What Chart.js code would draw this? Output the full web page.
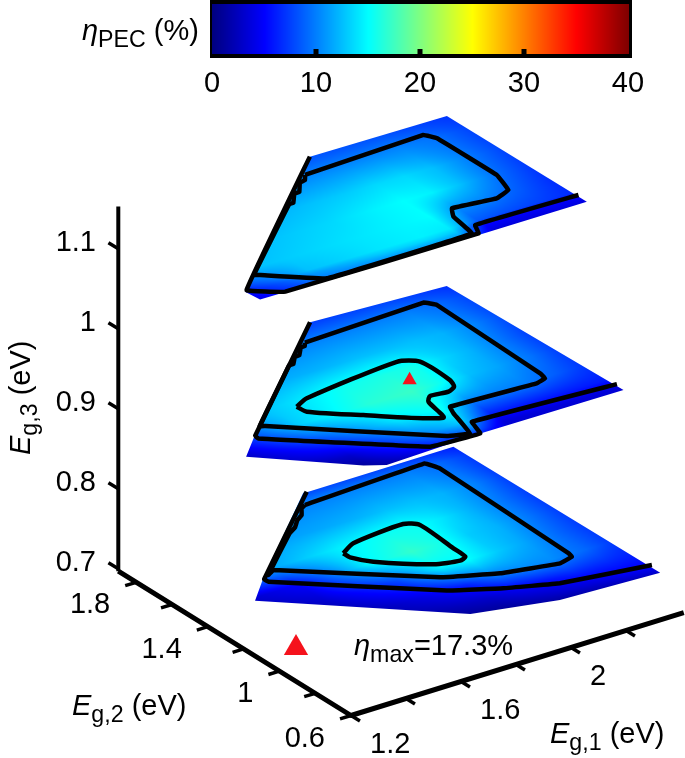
<!DOCTYPE html>
<html>
<head>
<meta charset="utf-8">
<title>PEC efficiency slices</title>
<script src="https://cdn.jsdelivr.net/npm/chart.js@4/dist/chart.umd.min.js"></script>
<style>
  html, body { margin: 0; padding: 0; background: #fff; }
  canvas { display: block; }
</style>
</head>
<body>
<canvas id="chart" width="685" height="758"></canvas>
<script>
// Tick labels
const BAR_TICKS = [0, 10, 20, 30, 40];
const E1_TICKS = [1.2, 1.4, 1.6, 1.8, 2, 2.2];
const E1_LABELS = [1.2, 1.6, 2];
const E2_TICKS = [0.6, 0.8, 1, 1.2, 1.4, 1.6, 1.8];
const E2_LABELS = [0.6, 1, 1.4, 1.8];
const E3_TICKS = [0.7, 0.8, 0.9, 1, 1.1];

// Slice levels, Eg,3 in eV
const LEVELS = [1.1, 0.9, 0.7];

// Efficiency samples (%), columns are Eg,1, rows are Eg,2 going down
const E1_COLS = [1.35, 1.6, 1.85, 2, 2.1, 2.2, 2.3, 2.42, 2.55];

const TOP_ROWS = [2.15, 2.03, 1.85, 1.7, 1.56, 1.45, 1.42, 1.36];
const TOP_VALUES = [
  [8, 8, 8, 8, 8, 8, 8, 7.5, 7],
  [10, 10, 10, 10.2, 10.2, 10.2, 10.2, 9.5, 7.5],
  [11, 11.5, 12.5, 13, 13.5, 13.5, 12.5, 10, 7.5],
  [11.5, 12.5, 13.5, 14.5, 15, 14.5, 12.5, 9.5, 7],
  [12, 13, 14, 14.6, 15, 10.5, 10, 8.5, 6.5],
  [6, 12.5, 14, 14.5, 14.2, 8.5, 8, 7.5, 6.5],
  [5, 11, 13, 13.5, 13, 5.5, 5, 5, 5],
  [3.5, 9.5, 10, 10, 10, 3.5, 3.5, 3.5, 3.5]
];

const MID_ROWS = [2.1, 1.99, 1.8, 1.65, 1.5, 1.35, 1.22, 1.15, 1.1];
const MID_VALUES = [
  [7.5, 7.5, 7.5, 7.5, 7.5, 7.5, 7.5, 7, 6.5],
  [10, 10, 10, 10, 10, 10, 10, 9, 7],
  [11, 11.5, 12, 12.5, 12.5, 12.5, 12, 10, 7],
  [11.5, 13, 15.5, 16, 15.8, 13.5, 12, 9.5, 6.5],
  [4.5, 13, 16.5, 17.2, 15.5, 12.5, 11.5, 9.5, 6.5],
  [2, 7.5, 14, 15.5, 10.5, 10.2, 10, 8.5, 6.5],
  [1, 3, 10, 13, 6, 6, 6, 6, 6],
  [0.8, 1.5, 7, 9, 3.5, 3.5, 3.5, 3.5, 3.5],
  [0.6, 0.8, 4.5, 4.5, 3, 3, 3, 3, 3]
];

const LOW_ROWS = [2.06, 1.99, 1.8, 1.65, 1.5, 1.35, 1.2, 1.08, 0.98, 0.92];
const LOW_VALUES = [
  [7.5, 7.5, 7.5, 7.5, 7.5, 7.5, 7.5, 7, 6],
  [10, 10, 10, 10, 10, 10, 10, 9, 6.5],
  [11, 11, 11.5, 12, 12.5, 12.5, 12, 10, 6.5],
  [11, 11.5, 14.5, 15.5, 15.5, 14, 12, 9.5, 6.5],
  [2, 5, 14.8, 17, 15.8, 13, 12, 9.5, 6.5],
  [1, 3, 8, 14.5, 15, 13, 11.5, 9, 6.5],
  [0.5, 1, 4, 6.5, 9.5, 10.5, 10.5, 9, 6.5],
  [0.4, 0.5, 2, 3, 4.5, 5.5, 6.5, 6.5, 6],
  [0.3, 0.3, 0.5, 1, 2, 3, 3.5, 4.5, 5],
  [0.3, 0.3, 0.3, 0.5, 0.8, 1, 1.5, 2, 3]
];

// Slice outlines and contours as [Eg,1, Eg,2] in eV
const TOP_OUTLINE = [[2.054, 2.135], [2.538, 2.137], [2.53, 1.364], [2.143, 1.355], [1.372, 1.354], [1.367, 1.428]];
const TOP_C5 = [[2.054, 2.135], [1.377, 1.435], [1.462, 1.356], [2.149, 1.365], [2.174, 1.422], [2.537, 1.42]];
const TOP_C10 = [[1.97, 2.032], [2.408, 2.064], [2.427, 2.019], [2.423, 1.688], [2.391, 1.576], [2.33, 1.546],
  [2.185, 1.566], [2.156, 1.512], [2.133, 1.377], [1.613, 1.363], [1.469, 1.502], [1.454, 1.514],
  [1.818, 1.883], [1.833, 1.884], [1.872, 1.939], [1.889, 1.938], [1.927, 1.994], [1.95, 2.001], [1.97, 2.032]];

const MID_OUTLINE = [[2.032, 2.1], [2.498, 2.076], [2.505, 1.126], [1.995, 1.118], [1.649, 1.093], [1.592, 1.131], [1.35, 1.396], [1.448, 1.503]];
const MID_C5 = [[2.032, 2.1], [1.454, 1.507], [1.451, 1.485], [1.824, 1.127], [1.995, 1.118], [2.021, 1.204], [2.513, 1.174]];
const MID_C10 = [[1.939, 1.985], [2.378, 2.017], [2.4, 1.979], [2.374, 1.377], [2.366, 1.338], [2.326, 1.322],
  [2.029, 1.335], [2.011, 1.288], [1.971, 1.136], [1.905, 1.162], [1.516, 1.548], [1.503, 1.558],
  [1.814, 1.877], [1.828, 1.876], [1.86, 1.918], [1.876, 1.918], [1.911, 1.964], [1.926, 1.965], [1.939, 1.985]];
const MID_C15 = [[1.667, 1.61], [1.724, 1.643], [2.081, 1.704], [2.136, 1.663], [2.134, 1.497], [2.118, 1.45], [2.085, 1.429],
  [2.024, 1.436], [1.998, 1.404], [1.97, 1.28], [1.791, 1.439], [1.671, 1.561], [1.667, 1.61]];

const LOW_OUTLINE = [[1.991, 2.046], [2.511, 2.06], [2.502, 0.922], [2.157, 0.935], [1.89, 1.01], [1.434, 1.477], [1.542, 1.599], [1.975, 2.049]];
const LOW_C5 = [[1.987, 2.049], [1.54, 1.591], [1.541, 1.569], [1.927, 1.195], [2.07, 1.108], [2.223, 1.037], [2.513, 0.984]];
const LOW_C10 = [[1.93, 1.971], [2.378, 2.01], [2.394, 1.953], [2.362, 1.205], [2.357, 1.178], [2.302, 1.158], [2.122, 1.205],
  [1.964, 1.288], [1.599, 1.631], [1.567, 1.61], [1.782, 1.826], [1.819, 1.853], [1.853, 1.893], [1.883, 1.916], [1.909, 1.957], [1.93, 1.971]];
const LOW_C15 = [[1.83, 1.608], [1.893, 1.651], [2.087, 1.679], [2.123, 1.643], [2.11, 1.441], [2.105, 1.369], [2.077, 1.354],
  [2, 1.379], [1.868, 1.503], [1.83, 1.571], [1.83, 1.608]];

// Optimum bandgaps, [Eg,1, Eg,2, Eg,3] in eV
const OPTIMUM = [2.039, 1.57, 0.9];

const FONT = '"Liberation Sans", Arial, sans-serif';

// The slices carry a little perspective, so they get their own fit next to the axes
function slicePoint(e1, e2, e3) {
  return {
    x: 350 + 283.75 * (e1 - 1.2) - 184 * (e2 - 0.6),
    y: 716.7 - 83.4 * (e1 - 1.2) - 110 * (e2 - 0.6) - 800 * (e3 - 0.7)
  };
}

function axisPoint(e1, e2, e3) {
  return {
    x: 351 + 275 * (e1 - 1.2) - 179 * (e2 - 0.6),
    y: 715.5 - 85 * (e1 - 1.2) - 111 * (e2 - 0.6) - 800 * (e3 - 0.697)
  };
}

// Inverse of slicePoint for one level
function sliceInverse(x, y, e3) {
  const dx = x - 350;
  const dy = y - 716.7 + 800 * (e3 - 0.7);
  return {
    e1: 1.2 + 0.002363 * dx - 0.003952 * dy,
    e2: 0.6 - 0.001791 * dx - 0.006095 * dy
  };
}

function jet(v) {
  const t = v / 40;
  const ch = c => Math.round(255 * Math.max(0, Math.min(1, 1.5 - Math.abs(4 * t - c))));
  return [ch(3), ch(2), ch(1)];
}

function bracket(list, value, descending) {
  for (let i = 0; i < list.length - 1; i++) {
    const inside = descending ? value >= list[i + 1] : value <= list[i + 1];
    if (inside) {
      const f = (value - list[i]) / (list[i + 1] - list[i]);
      return [i, Math.max(0, Math.min(1, f))];
    }
  }
  return [list.length - 2, 1];
}

function heatAt(slice, e1, e2) {
  const [i, t] = bracket(E1_COLS, e1, false);
  const [j, u] = bracket(slice.rows, e2, true);
  const v = slice.values;
  return (v[j][i] * (1 - t) + v[j][i + 1] * t) * (1 - u) + (v[j + 1][i] * (1 - t) + v[j + 1][i + 1] * t) * u;
}

const SLICES = [
  { level: LEVELS[0], rows: TOP_ROWS, values: TOP_VALUES, outline: TOP_OUTLINE, contours: [TOP_C5, TOP_C10] },
  { level: LEVELS[1], rows: MID_ROWS, values: MID_VALUES, outline: MID_OUTLINE, contours: [MID_C5, MID_C10, MID_C15] },
  { level: LEVELS[2], rows: LOW_ROWS, values: LOW_VALUES, outline: LOW_OUTLINE, contours: [LOW_C5, LOW_C10, LOW_C15] }
];

// Paint one slice off screen, then cut it to its outline
function drawSlice(chart, slice) {
  const sx = chart.scales.x;
  const sy = chart.scales.y;
  const pts = slice.outline.map(p => {
    const q = slicePoint(p[0], p[1], slice.level);
    return { x: sx.getPixelForValue(q.x), y: sy.getPixelForValue(q.y) };
  });
  const x0 = Math.floor(Math.min(...pts.map(p => p.x))) - 1;
  const x1 = Math.ceil(Math.max(...pts.map(p => p.x))) + 1;
  const y0 = Math.floor(Math.min(...pts.map(p => p.y))) - 1;
  const y1 = Math.ceil(Math.max(...pts.map(p => p.y))) + 1;
  const off = document.createElement('canvas');
  off.width = x1 - x0;
  off.height = y1 - y0;
  const octx = off.getContext('2d');
  const img = octx.createImageData(off.width, off.height);
  for (let py = 0; py < off.height; py++) {
    for (let px = 0; px < off.width; px++) {
      const e = sliceInverse(sx.getValueForPixel(px + x0), sy.getValueForPixel(py + y0), slice.level);
      const c = jet(heatAt(slice, e.e1, e.e2));
      const k = (py * off.width + px) * 4;
      img.data[k] = c[0];
      img.data[k + 1] = c[1];
      img.data[k + 2] = c[2];
      img.data[k + 3] = 255;
    }
  }
  octx.putImageData(img, 0, 0);
  octx.globalCompositeOperation = 'destination-in';
  octx.beginPath();
  pts.forEach((p, i) => i ? octx.lineTo(p.x - x0, p.y - y0) : octx.moveTo(p.x - x0, p.y - y0));
  octx.closePath();
  octx.fill();
  chart.ctx.drawImage(off, x0, y0);
}

// Mixed italic / subscript text
function drawRuns(ctx, x, y, runs, size) {
  let cx = x;
  runs.forEach(run => {
    const fs = run.sub ? size * 0.8 : size;
    ctx.font = (run.italic ? 'italic ' : '') + fs + 'px ' + FONT;
    ctx.fillText(run.t, cx, run.sub ? y + size * 0.24 : y);
    cx += ctx.measureText(run.t).width;
  });
}

function drawColorBar(ctx) {
  const barX = v => 212 + v * 10.4;
  ctx.fillStyle = '#000';
  ctx.fillRect(210, 0, 422, 58);
  for (let px = 212; px < 629; px++) {
    const c = jet((px - 212) / 10.4);
    ctx.fillStyle = 'rgb(' + c.join(',') + ')';
    ctx.fillRect(px, 4, 1, 50);
  }
  ctx.fillStyle = '#000';
  ctx.font = '29px ' + FONT;
  ctx.textAlign = 'center';
  ctx.textBaseline = 'alphabetic';
  BAR_TICKS.forEach(v => {
    if (v > 0 && v < 40) ctx.fillRect(barX(v) - 2.5, 49, 5, 6);
    ctx.fillText(String(v), barX(v), 92);
  });
  ctx.textAlign = 'left';
  drawRuns(ctx, 82, 40, [
    { t: 'η', italic: true },
    { t: 'PEC', sub: true },
    { t: ' (%)' }
  ], 29);
}

function drawAxisText(ctx) {
  ctx.fillStyle = '#000';
  ctx.font = '29px ' + FONT;
  ctx.textBaseline = 'alphabetic';

  ctx.textAlign = 'right';
  E3_TICKS.forEach(v => {
    const p = axisPoint(1.2, 1.9, v);
    ctx.fillText(String(v), 96, p.y + 2.5);
  });
  E2_LABELS.forEach(v => {
    const p = axisPoint(1.2, v, 0.697);
    ctx.fillText(String(v), p.x - 26, p.y + 31);
  });
  ctx.textAlign = 'left';
  E1_LABELS.forEach(v => {
    const p = axisPoint(v, 0.6, 0.697);
    ctx.fillText(String(v), p.x + 19, p.y + 37);
  });

  drawRuns(ctx, 72, 715, [{ t: 'E', italic: true }, { t: 'g,2', sub: true }, { t: ' (eV)' }], 29);
  drawRuns(ctx, 550, 743, [{ t: 'E', italic: true }, { t: 'g,1', sub: true }, { t: ' (eV)' }], 29);
  drawRuns(ctx, 354, 655, [{ t: 'η', italic: true }, { t: 'max', sub: true }, { t: '=17.3%' }], 29);

  ctx.save();
  ctx.translate(30, 455);
  ctx.rotate(-Math.PI / 2);
  drawRuns(ctx, 0, 0, [{ t: 'E', italic: true }, { t: 'g,3', sub: true }, { t: ' (eV)' }], 29);
  ctx.restore();
}

const figurePlugin = {
  id: 'figure',
  beforeDatasetsDraw(chart) {
    const ctx = chart.ctx;
    ctx.save();
    SLICES.forEach(s => drawSlice(chart, s));
    drawColorBar(ctx);
    drawAxisText(ctx);
    ctx.restore();
  }
};

function lineSet(data, width, tension) {
  return {
    data: data,
    showLine: true,
    borderColor: '#000',
    borderWidth: width,
    borderJoinStyle: 'round',
    borderCapStyle: 'butt',
    pointRadius: 0,
    spanGaps: false,
    tension: tension || 0,
    clip: false
  };
}

// Axis lines and tick stubs, stubs are cut by nulls
function axisData() {
  const out = [];
  const seg = (a, b) => { out.push(a, b, { x: null, y: null }); };
  E1_TICKS.forEach(v => seg(axisPoint(v, 0.6, 0.697), axisPoint(v, 0.55, 0.697)));
  E2_TICKS.forEach(v => seg(axisPoint(1.2, v, 0.697), axisPoint(1.16, v, 0.697)));
  E3_TICKS.forEach(v => seg(axisPoint(1.2, 1.9, v), axisPoint(1.2, 1.955, v)));
  return out;
}

const datasets = [];
// markers first so they sit on top
datasets.push({
  data: [slicePoint(OPTIMUM[0], OPTIMUM[1], OPTIMUM[2])],
  pointStyle: 'triangle',
  pointRadius: 8.2,
  backgroundColor: '#f5121c',
  borderWidth: 0,
  clip: false
});
datasets.push({
  data: [{ x: 296, y: 648 }],
  pointStyle: 'triangle',
  pointRadius: 14,
  backgroundColor: '#f5121c',
  borderWidth: 0,
  clip: false
});
SLICES.forEach(s => {
  s.contours.forEach((c, i) => {
    // the inner rings are the roundest ones, the outer ones run along straight edges
    const tension = i === 2 ? 0.22 : 0.05;
    datasets.push(lineSet(c.map(p => slicePoint(p[0], p[1], s.level)), 4.5, tension));
  });
});
datasets.push(lineSet([axisPoint(1.2, 1.9, 0.697), axisPoint(1.2, 1.9, 1.153)], 4));
datasets.push(lineSet([axisPoint(1.2, 1.9, 0.697), axisPoint(1.2, 0.6, 0.697), axisPoint(2.41, 0.6, 0.697)], 5));
datasets.push(lineSet(axisData(), 3.5));

new Chart(document.getElementById('chart'), {
  type: 'scatter',
  data: { datasets: datasets },
  plugins: [figurePlugin],
  options: {
    responsive: false,
    animation: false,
    layout: { padding: 0, autoPadding: false },
    plugins: { legend: { display: false }, tooltip: { enabled: false } },
    scales: {
      x: { type: 'linear', min: 0, max: 685, display: false },
      y: { type: 'linear', min: 0, max: 758, reverse: true, display: false }
    }
  }
});
</script>
</body>
</html>
